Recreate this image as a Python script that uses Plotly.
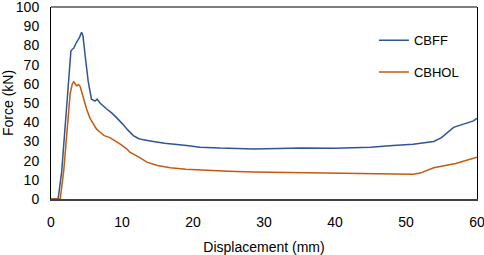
import plotly.graph_objects as go

# CBFF series
cbff_x = [0, 0.5, 1.0, 1.5, 2.0, 2.5, 2.8, 3.0, 3.2, 3.5, 3.8, 4.0, 4.3, 4.5, 4.8, 5.25, 5.7, 6.0, 6.2, 6.5, 6.9,
          7.8, 8.5, 9.2, 9.7, 10.1, 10.8, 11.6, 12.3, 13, 14.4, 16, 19.1, 21, 23.8, 28.5, 32, 35.1, 40, 42.1, 45,
          48.2, 51, 53.9, 55, 56.7, 58, 59.5, 60]
cbff_y = [0, 0, 0, 14, 40, 65, 77, 78, 78.5, 81, 82.5, 84, 86.8, 85, 75, 61, 52, 51.5, 51, 52, 50,
          47, 45, 42.5, 40.7, 39, 36, 33, 31.5, 30.8, 30, 29, 27.8, 27, 26.5, 26.1, 26.3, 26.5, 26.4, 26.6, 27,
          27.8, 28.5, 30, 32, 37.3, 39, 40.7, 42]

# CBHOL series
cbhol_x = [0, 1.0, 1.3, 1.8, 2.3, 2.7, 3.0, 3.2, 3.6, 3.9, 4.1, 4.5, 5.0, 5.5, 6.0, 6.4, 7.0, 7.5, 8.3, 9.0,
           9.7, 10.7, 11.1, 12.5, 13.5, 15, 16.8, 19, 21.5, 25, 28.5, 34.6, 40, 45, 51, 52, 53.9, 57, 60]
cbhol_y = [0, 0, 0, 15, 38, 55, 60, 61, 59, 59.5, 58.7, 53, 47, 42, 38.5, 36.5, 34.5, 33, 32, 30.5,
           28.7, 26, 24.4, 21.5, 19.2, 17.5, 16.3, 15.5, 15, 14.5, 14.1, 13.7, 13.3, 13, 12.9, 13.5, 16.3, 18.5, 21.8]

x_ticks = [0, 10, 20, 30, 40, 50, 60]
y_ticks = [0, 10, 20, 30, 40, 50, 60, 70, 80, 90, 100]

FONT = "Arial, Liberation Sans, sans-serif"

fig = go.Figure()
fig.add_trace(go.Scatter(x=cbff_x, y=cbff_y, mode="lines", name="CBFF", legendgroup="a",
                         line=dict(color="#2F5597", width=1.5)))
fig.add_trace(go.Scatter(x=cbhol_x, y=cbhol_y, mode="lines", name="CBHOL", legendgroup="b",
                         line=dict(color="#C55A11", width=1.5)))

fig.update_layout(
    width=484, height=255,
    margin=dict(l=51, r=7, t=7, b=56),
    paper_bgcolor="white", plot_bgcolor="white",
    font=dict(family=FONT, size=14, color="black"),
    showlegend=True,
    legend=dict(x=0.758, y=0.905, xanchor="left", yanchor="top", bgcolor="rgba(0,0,0,0)",
                tracegroupgap=12, font=dict(size=13), itemwidth=30),
    xaxis=dict(range=[0, 60], tickvals=x_ticks, showgrid=False, zeroline=False,
               showline=True, linecolor="#404040", linewidth=2, ticks="",
               ticklabelstandoff=9, automargin=False, ticklabeloverflow="allow",
               title=dict(text="Displacement (mm)", font=dict(size=14), standoff=18)),
    yaxis=dict(range=[0, 100], tickvals=y_ticks, showgrid=False, zeroline=False,
               showline=True, linecolor="black", linewidth=1, mirror=True, ticks="",
               ticklabelstandoff=8, automargin=False, ticklabeloverflow="allow",
               title=dict(text="Force (kN)", font=dict(size=14), standoff=4)),
    shapes=[dict(type="line", xref="paper", yref="paper", x0=0, x1=1, y0=1, y1=1,
                 line=dict(color="black", width=1))],
)

fig.write_html("out.html", config={"displayModeBar": False},
               post_script="document.body.style.margin='0';document.body.style.overflow='hidden';")
